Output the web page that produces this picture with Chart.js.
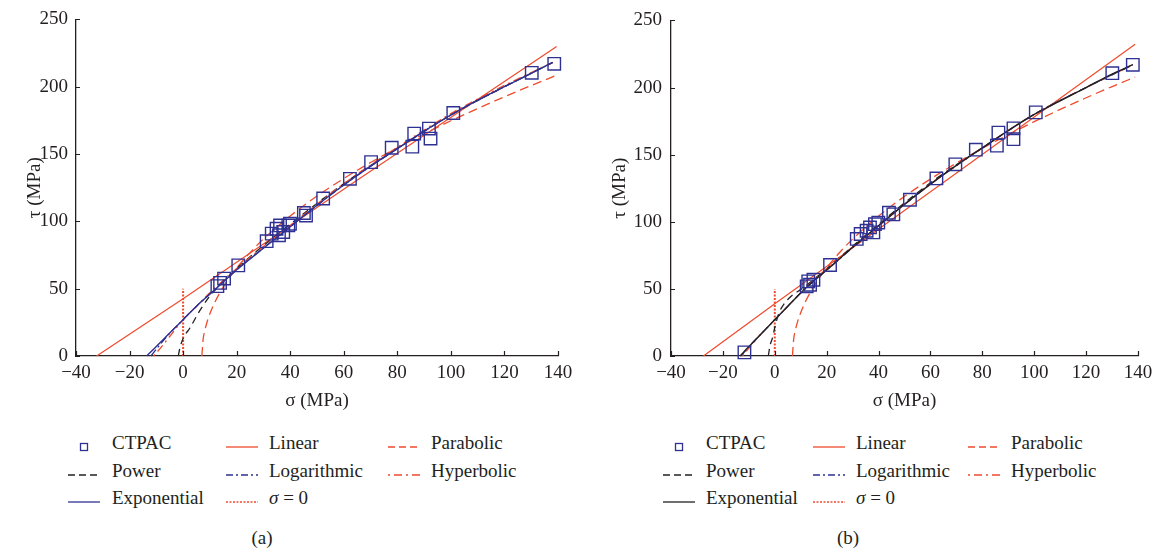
<!DOCTYPE html>
<html>
<head>
<meta charset="utf-8">
<script src="https://cdn.jsdelivr.net/npm/chart.js@4.4.1/dist/chart.umd.min.js"></script>
<style>
  html, body { margin: 0; padding: 0; background: #ffffff; }
  body { width: 1159px; height: 554px; position: relative; overflow: hidden;
         font-family: "Liberation Serif", "DejaVu Serif", serif; color: #231f20; }
  canvas { position: absolute; top: 0; }
  .lg { position: absolute; font-size: 19px; line-height: 22px; white-space: nowrap; transform: translateY(-50%); }
  .sw { position: absolute; transform: translateY(-50%); }
  .cap { position: absolute; font-size: 19px; transform: translate(-50%, -50%); }
</style>
</head>
<body>
<canvas id="chartA" width="580" height="420" style="left:0px"></canvas>
<canvas id="chartB" width="579" height="420" style="left:580px"></canvas>
<div id="legend"></div>
<script>
// ---------- tick labels ----------
const xTicks = [-40, -20, 0, 20, 40, 60, 80, 100, 120, 140];
const yTicks = [0, 50, 100, 150, 200, 250];

// ---------- panel (a) ----------
const ctpacA_sigma = [12.8, 13.8, 15.3, 20.6, 31.2, 33.1, 34.9, 35.8, 36.2, 37.4, 39.3, 39.9, 45.1, 45.9, 52.3, 62.3, 70.2, 77.9, 85.6, 86.3, 91.8, 92.4, 100.9, 130.2, 138.6];
const ctpacA_tau   = [51.9, 54.3, 57.5, 67.3, 85.3, 90.9, 94.5, 89.7, 97.0, 92.1, 97.0, 98.2, 106.2, 104.3, 117.0, 131.6, 144.0, 154.7, 155.5, 165.2, 168.9, 161.5, 180.5, 210.3, 217.0];

const linearA_sigma = [-32.3, 0, 62.3, 139.5];
const linearA_tau   = [0, 42.5, 127.0, 229.8];

const parabolicA_sigma = [7.0, 7.5, 8.0, 9.0, 10.0, 12.0, 14.0, 17.0, 20.0, 25.0, 30.0, 40.0, 50.0, 60.0, 70.0, 80.0, 90.0, 100.0, 110.0, 120.0, 130.0, 140.0];
const parabolicA_tau   = [0, 12.8, 18.0, 25.6, 31.4, 40.5, 47.9, 57.3, 65.3, 76.8, 86.9, 104.0, 118.8, 131.8, 143.7, 154.7, 165.0, 174.7, 183.8, 192.5, 200.9, 208.9];

const powerA_sigma = [-1.8, -1.2, 0, 2.6, 6.0, 9.4, 12.0, 20.0, 35.0, 60.0, 80.0, 100.0, 120.0, 138.0];
const powerA_tau   = [0, 6, 13, 21, 33, 43, 49, 65, 90, 128, 154, 179, 200, 218];

const logA_sigma = [-12.0, -8.0, -4.0, 0, 5.0, 10.0, 20.0, 40.0, 60.0, 80.0, 100.0, 120.0, 138.0];
const logA_tau   = [0, 10, 19, 27, 37, 46, 64, 96, 127, 154, 179, 200, 218];

const hyperbolicA_sigma = [-11.0, -8.0, -4.0, 0, 5.0, 10.0, 20.0, 40.0, 60.0, 80.0, 100.0, 120.0, 138.0];
const hyperbolicA_tau   = [0, 7, 17, 27, 37, 47, 65, 97, 128, 155, 180, 201, 218];

const expA_sigma = [-13.6, -10.0, -5.0, 0, 5.0, 10.0, 15.0, 20.0, 30.0, 40.0, 50.0, 60.0, 70.0, 80.0, 90.0, 100.0, 110.0, 120.0, 130.0, 138.0];
const expA_tau   = [0, 7, 17, 27, 37, 46, 55, 64, 80, 96, 112, 127, 141, 154, 167, 179, 190, 200, 210, 218];

const sigma0_sigma = [0, 0];
const sigma0_tau   = [0, 50];

// ---------- panel (b) ----------
const ctpacB_sigma = [-11.7, 12.3, 12.9, 13.6, 14.9, 21.3, 31.6, 33.1, 35.4, 36.7, 38.0, 38.6, 39.9, 44.0, 45.7, 52.1, 62.3, 69.6, 77.5, 85.6, 86.2, 92.0, 92.0, 100.6, 130.1, 138.0];
const ctpacB_tau   = [2.7, 51.9, 55.6, 53.1, 56.8, 67.8, 87.2, 90.9, 93.3, 95.8, 92.1, 98.2, 99.4, 106.7, 105.5, 116.4, 132.3, 142.8, 153.7, 156.7, 166.4, 169.6, 161.5, 181.5, 210.7, 216.9];

const linearB_sigma = [-27.5, 0, 62.3, 138.9];
const linearB_tau   = [0, 39.0, 125.5, 232.2];

const parabolicB_sigma = [6.8, 7.3, 7.8, 8.8, 9.8, 11.8, 13.8, 16.8, 19.8, 24.8, 29.8, 39.8, 49.8, 59.8, 69.8, 79.8, 89.8, 99.8, 109.8, 119.8, 129.8, 138.9];
const parabolicB_tau   = [0, 12.8, 18.1, 25.6, 31.3, 40.4, 47.8, 57.2, 65.2, 76.7, 86.7, 103.9, 118.6, 131.6, 143.5, 154.5, 164.7, 174.4, 183.5, 192.2, 200.5, 207.8];

const powerB_sigma = [-2.5, -1.8, -0.8, 0.1, 1.6, 3.3, 6.0, 10.4, 15.0, 20.0, 35.0, 60.0, 80.0, 100.0, 120.0, 138.0];
const powerB_tau   = [0, 8, 14, 22, 32, 38, 44, 50, 57, 65, 90, 129, 155, 180, 200, 217];

const logB_sigma = [-13.0, -9.0, -5.0, 0, 5.0, 10.0, 20.0, 40.0, 60.0, 80.0, 100.0, 120.0, 138.0];
const logB_tau   = [0, 9, 17, 27, 37, 47, 64, 97, 128, 155, 180, 200, 217];

const hyperbolicB_sigma = [-12.5, -9.0, -5.0, 0, 5.0, 10.0, 20.0, 40.0, 60.0, 80.0, 100.0, 120.0, 138.0];
const hyperbolicB_tau   = [0, 8, 17, 27, 37, 47, 65, 97, 128, 155, 180, 200, 217];

const expB_sigma = [-13.4, -10.0, -5.0, -0.5, 5.0, 10.0, 15.0, 20.0, 30.0, 40.0, 50.0, 60.0, 70.0, 80.0, 90.0, 100.0, 110.0, 120.0, 130.0, 138.0];
const expB_tau   = [0, 7, 17, 26, 37, 47, 56, 64, 81, 97, 113, 128, 142, 155, 168, 180, 190, 200, 210, 217];

// ---------- styles ----------
const RED = '#ef4b2c';
const BLUE = '#2e3192';
const BLACK = '#231f20';
const AXIS = '#231f20';
const FONT = "'Liberation Serif', 'DejaVu Serif', serif";
Chart.defaults.font.family = FONT;
Chart.defaults.color = BLACK;

const pts = (xs, ys) => xs.map((x, i) => ({ x: x, y: ys[i] }));

function lineSet(label, xs, ys, color, dash, width, smooth) {
  return {
    type: 'line', label: label, data: pts(xs, ys),
    borderColor: color, backgroundColor: color, borderWidth: width || 1.3,
    borderDash: dash || [], pointRadius: 0, pointHoverRadius: 0,
    showLine: true, fill: false,
    cubicInterpolationMode: smooth === false ? 'default' : 'monotone',
    tension: 0, clip: false
  };
}

const inwardTicks = {
  id: 'inwardTicks',
  afterDraw(chart) {
    const { ctx, chartArea: a, scales: { x, y } } = chart;
    ctx.save();
    ctx.strokeStyle = AXIS; ctx.lineWidth = 1.2;
    ctx.beginPath();
    x.ticks.forEach(t => { const p = Math.round(x.getPixelForValue(t.value)) + 0.5; ctx.moveTo(p, a.bottom); ctx.lineTo(p, a.bottom - 5); });
    y.ticks.forEach(t => { const p = Math.round(y.getPixelForValue(t.value)) + 0.5; ctx.moveTo(a.left, p); ctx.lineTo(a.left + 4, p); });
    ctx.stroke();
    ctx.restore();
  }
};

function makeChart(id, cfg) {
  const datasets = [
    { type: 'scatter', label: 'CTPAC', data: pts(cfg.ctpacS, cfg.ctpacT), pointStyle: 'rect',
      pointRadius: 8.8, pointBorderWidth: 1.4, pointBorderColor: BLUE, pointBackgroundColor: 'rgba(0,0,0,0)',
      showLine: false, clip: false },
    lineSet('Exponential', cfg.expS, cfg.expT, cfg.expColor, [], 1.4),
    lineSet('Logarithmic', cfg.logS, cfg.logT, BLUE, [8, 3, 2, 3], 1.3),
    lineSet('Hyperbolic', cfg.hypS, cfg.hypT, RED, [2, 4, 8, 4], 1.3),
    lineSet('Power', cfg.powS, cfg.powT, BLACK, [7, 5], 1.3),
    lineSet('Parabolic', cfg.parS, cfg.parT, RED, [9, 5], 1.3),
    lineSet('Linear', cfg.linS, cfg.linT, RED, [], 1.2, false),
    lineSet('σ = 0', sigma0_sigma, sigma0_tau, RED, [2, 1.5], 2, false)
  ];
  return new Chart(document.getElementById(id), {
    type: 'scatter',
    data: { datasets: datasets },
    options: {
      responsive: false, animation: false, devicePixelRatio: 1,
      layout: { padding: { left: 0, top: 14, right: cfg.padRight, bottom: 0 } },
      plugins: { legend: { display: false }, tooltip: { enabled: false } },
      scales: {
        x: {
          type: 'linear', min: -40, max: 140,
          afterBuildTicks: s => { s.ticks = xTicks.map(v => ({ value: v })); },
          afterFit: s => { s.height = 64; },
          ticks: { color: BLACK, padding: 6, font: { family: FONT, size: 19 },
                   callback: v => (v < 0 ? '\u2212' + Math.abs(v) : String(v)) },
          grid: { display: false, drawTicks: false },
          border: { display: true, color: AXIS, width: 1.3 },
          title: { display: true, text: 'σ (MPa)', color: BLACK, font: { family: FONT, size: 19 }, padding: { top: 0, bottom: 7.6 } }
        },
        y: {
          type: 'linear', min: 0, max: 250,
          afterBuildTicks: s => { s.ticks = yTicks.map(v => ({ value: v })); },
          afterFit: s => { s.width = cfg.yWidth; },
          ticks: { color: BLACK, padding: cfg.yPad, font: { family: FONT, size: 19 } },
          grid: { display: false, drawTicks: false },
          border: { display: true, color: AXIS, width: 1.3 },
          title: { display: true, text: 'τ (MPa)', color: BLACK, font: { family: FONT, size: 19 }, padding: { top: cfg.yTitlePad, bottom: 0 } }
        }
      }
    },
    plugins: [inwardTicks]
  });
}

makeChart('chartA', {
  ctpacS: ctpacA_sigma, ctpacT: ctpacA_tau,
  linS: linearA_sigma, linT: linearA_tau,
  parS: parabolicA_sigma, parT: parabolicA_tau,
  powS: powerA_sigma, powT: powerA_tau,
  logS: logA_sigma, logT: logA_tau,
  hypS: hyperbolicA_sigma, hypT: hyperbolicA_tau,
  expS: expA_sigma, expT: expA_tau, expColor: BLUE,
  padRight: 22, yWidth: 76, yPad: 8, yTitlePad: 23.6
});

makeChart('chartB', {
  ctpacS: ctpacB_sigma, ctpacT: ctpacB_tau,
  linS: linearB_sigma, linT: linearB_tau,
  parS: parabolicB_sigma, parT: parabolicB_tau,
  powS: powerB_sigma, powT: powerB_tau,
  logS: logB_sigma, logT: logB_tau,
  hypS: hyperbolicB_sigma, hypT: hyperbolicB_tau,
  expS: expB_sigma, expT: expB_tau, expColor: BLACK,
  padRight: 21, yWidth: 91, yPad: 9, yTitlePad: 28.6
});

// ---------- HTML legends ----------
const legendRows = [443, 471, 498];
function swatch(kind, color) {
  if (kind === 'square') {
    return '<svg width="32" height="10"><rect x="12.5" y="1.5" width="7" height="7" fill="none" stroke="' + BLUE + '" stroke-width="1.3"/></svg>';
  }
  const dashes = { solid: '', dash: '7,4', dashdot: '7,3,2,3', dotdash: '2,4,8,4', dot: '2,1.5' };
  const d = dashes[kind] ? ' stroke-dasharray="' + dashes[kind] + '"' : '';
  return '<svg width="32" height="10"><line x1="0" y1="5" x2="32" y2="5" stroke="' + color + '" stroke-width="1.3"' + d + '/></svg>';
}
function buildLegend(cols, expColor, capX, capText) {
  const items = [
    [0, 0, 'square', BLUE, 'CTPAC'], [1, 0, 'solid', RED, 'Linear'], [2, 0, 'dash', RED, 'Parabolic'],
    [0, 1, 'dash', BLACK, 'Power'], [1, 1, 'dashdot', BLUE, 'Logarithmic'], [2, 1, 'dotdash', RED, 'Hyperbolic'],
    [0, 2, 'solid', expColor, 'Exponential'], [1, 2, 'dot', RED, '<i>σ</i> = 0']
  ];
  let html = '';
  items.forEach(([c, r, kind, color, text]) => {
    const y = legendRows[r];
    html += '<div class="sw" style="left:' + cols[c][0] + 'px;top:' + y + 'px;height:10px">' + swatch(kind, color) + '</div>';
    html += '<div class="lg" style="left:' + cols[c][1] + 'px;top:' + y + 'px">' + text + '</div>';
  });
  html += '<div class="cap" style="left:' + capX + 'px;top:538px">' + capText + '</div>';
  return html;
}
document.getElementById('legend').innerHTML =
  buildLegend([[68, 112], [226, 269], [388, 431]], BLUE, 262, '(a)') +
  buildLegend([[663, 706], [813, 856], [968, 1011]], BLACK, 848, '(b)');
</script>
</body>
</html>
